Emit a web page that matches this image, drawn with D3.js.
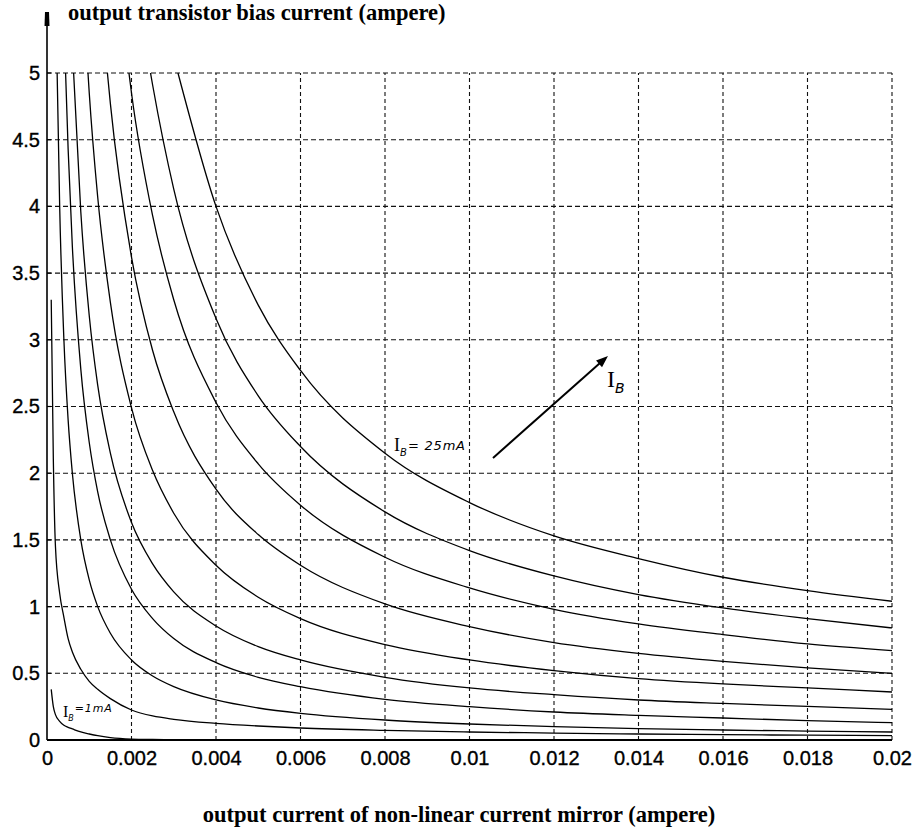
<!DOCTYPE html>
<html>
<head>
<meta charset="utf-8">
<script src="https://cdn.jsdelivr.net/npm/d3@7"></script>
<style>
  html, body { margin: 0; padding: 0; background: #fff; }
  svg { display: block; }
</style>
</head>
<body>
<svg id="chart" width="921" height="831"></svg>
<script>
// ---------- data ----------
const xTickValues = [0, 0.002, 0.004, 0.006, 0.008, 0.01, 0.012, 0.014, 0.016, 0.018, 0.02];
const xTickLabels = ["0", "0.002", "0.004", "0.006", "0.008", "0.01", "0.012", "0.014", "0.016", "0.018", "0.02"];
const yTickValues = [0, 0.5, 1, 1.5, 2, 2.5, 3, 3.5, 4, 4.5, 5];
const yTickLabels = ["0", "0.5", "1", "1.5", "2", "2.5", "3", "3.5", "4", "4.5", "5"];

const xTitle = "output current of non-linear current mirror (ampere)";
const yTitle = "output transistor bias current (ampere)";

// sample positions along the x axis (ampere)
const xGrid = [0.0001, 0.00015, 0.0002, 0.0003, 0.0004, 0.0005, 0.0006, 0.0008, 0.001, 0.0012, 0.0015,
               0.002, 0.0025, 0.003, 0.004, 0.005, 0.006, 0.008, 0.01, 0.012, 0.014, 0.016, 0.018, 0.02];

// x where each curve leaves the top of the plot (y = 5); null = curve starts below the top
const curveTopX = [null, null, 0.00024, 0.00044, 0.00063, 0.00097, 0.00143, 0.00194, 0.00245, 0.0031];

// curve values (ampere); null = above the plotted range
const yCurve1 = [0.38, 0.25, 0.19, 0.14, 0.11, 0.095, 0.083, 0.06, 0.045, 0.032, 0.018, 0.007, 0.004, 0.003, 0.002, 0.002, 0.0015, 0.001, 0.001, 0.001, 0.001, 0.001, 0.001, 0.001];
const yCurve2 = [3.3, 2.1, 1.45, 1.1, 0.92, 0.76, 0.66, 0.53, 0.44, 0.38, 0.31, 0.225, 0.18, 0.155, 0.125, 0.105, 0.09, 0.072, 0.06, 0.052, 0.045, 0.04, 0.036, 0.033];
const yCurve3 = [null, null, null, 4.0, 3.0, 2.4, 2.0, 1.5, 1.2, 1.0, 0.8, 0.6, 0.48, 0.4, 0.3, 0.24, 0.2, 0.15, 0.12, 0.1, 0.085, 0.075, 0.067, 0.06];
const yCurve4 = [null, null, null, null, null, 4.43, 3.7, 2.78, 2.23, 1.86, 1.5, 1.13, 0.91, 0.76, 0.58, 0.47, 0.40, 0.305, 0.25, 0.21, 0.185, 0.165, 0.145, 0.13];
const yCurve5 = [null, null, null, null, null, null, null, 3.96, 3.18, 2.66, 2.15, 1.63, 1.32, 1.11, 0.855, 0.70, 0.60, 0.47, 0.39, 0.34, 0.30, 0.274, 0.252, 0.23];
const yCurve6 = [null, null, null, null, null, null, null, null, 4.85, 4.07, 3.28, 2.49, 2.02, 1.70, 1.31, 1.07, 0.91, 0.715, 0.60, 0.52, 0.46, 0.42, 0.39, 0.36];
const yCurve7 = [null, null, null, null, null, null, null, null, null, null, 4.77, 3.62, 2.92, 2.46, 1.88, 1.54, 1.31, 1.02, 0.85, 0.73, 0.65, 0.59, 0.54, 0.50];
const yCurve8 = [null, null, null, null, null, null, null, null, null, null, null, 4.85, 3.93, 3.30, 2.53, 2.07, 1.76, 1.37, 1.14, 0.98, 0.87, 0.79, 0.72, 0.67];
const yCurve9 = [null, null, null, null, null, null, null, null, null, null, null, null, 4.91, 4.13, 3.16, 2.58, 2.20, 1.71, 1.42, 1.23, 1.09, 0.99, 0.91, 0.84];
const yCurve10 = [null, null, null, null, null, null, null, null, null, null, null, null, null, null, 4.0, 3.26, 2.77, 2.15, 1.78, 1.53, 1.36, 1.22, 1.12, 1.04];

const curveValues = [yCurve1, yCurve2, yCurve3, yCurve4, yCurve5, yCurve6, yCurve7, yCurve8, yCurve9, yCurve10];

// ---------- layout ----------
const svg = d3.select("#chart");
const x = d3.scaleLinear().domain([0, 0.02]).range([47, 892]);
const y = d3.scaleLinear().domain([0, 5]).range([740, 73]);

const tickFont = "'Liberation Sans', Arial, sans-serif";
const titleFont = "'Liberation Serif', 'Times New Roman', serif";
const handFont = "'DejaVu Sans', sans-serif";

// grid
const grid = svg.append("g").attr("stroke", "#111").attr("stroke-width", 1.1).attr("fill", "none");
grid.selectAll("line.v").data(xTickValues.slice(1)).join("line")
  .attr("x1", d => x(d)).attr("x2", d => x(d))
  .attr("y1", y(0)).attr("y2", y(5))
  .attr("stroke-dasharray", "4,3");
grid.selectAll("line.h").data(yTickValues.slice(1)).join("line")
  .attr("x1", x(0)).attr("x2", x(0.02))
  .attr("y1", d => y(d)).attr("y2", d => y(d))
  .attr("stroke-dasharray", "5,3");

// axes (labels only, via d3 axes)
const xAxis = d3.axisBottom(x).tickValues(xTickValues)
  .tickFormat((d, i) => xTickLabels[i]).tickSize(0).tickPadding(11);
const gx = svg.append("g").attr("transform", `translate(0,${y(0)})`).call(xAxis);
gx.select(".domain").remove();
gx.selectAll("text").attr("font-family", tickFont).attr("font-size", 20).attr("fill", "#000")
  .attr("stroke", "#000").attr("stroke-width", 0.35);

const yAxis = d3.axisLeft(y).tickValues(yTickValues)
  .tickFormat((d, i) => yTickLabels[i]).tickSize(0).tickPadding(7);
const gy = svg.append("g").attr("transform", `translate(${x(0)},0)`).call(yAxis);
gy.select(".domain").remove();
gy.selectAll("text").attr("font-family", tickFont).attr("font-size", 20).attr("fill", "#000")
  .attr("stroke", "#000").attr("stroke-width", 0.35);

// small tick marks at the left axis
svg.append("g").selectAll("line").data(yTickValues.slice(1)).join("line")
  .attr("x1", x(0)).attr("x2", x(0) + 4)
  .attr("y1", d => y(d)).attr("y2", d => y(d))
  .attr("stroke", "#000").attr("stroke-width", 1.2);

// axis lines
svg.append("line").attr("x1", x(0)).attr("x2", x(0)).attr("y1", y(0)).attr("y2", 14)
  .attr("stroke", "#000").attr("stroke-width", 1.6);
svg.append("path")
  .attr("d", `M${x(0) - 2.5},26 L${x(0) + 2.5},26 L${x(0) + 2},12 L${x(0) - 2},12 Z`)
  .attr("fill", "#000");
svg.append("line").attr("x1", x(0)).attr("x2", x(0.02)).attr("y1", y(0)).attr("y2", y(0))
  .attr("stroke", "#000").attr("stroke-width", 1.8);

// curves
svg.append("clipPath").attr("id", "plotclip").append("rect")
  .attr("x", x(0)).attr("y", y(5) - 1).attr("width", x(0.02) - x(0) + 1).attr("height", y(0) - y(5) + 2);

const line = d3.line()
  .x(d => x(d[0])).y(d => y(d[1]))
  .curve(d3.curveMonotoneX);

const curves = curveValues.map((vals, k) => {
  const pts = [];
  if (curveTopX[k] !== null) pts.push([curveTopX[k], 5]);
  xGrid.forEach((xv, i) => { if (vals[i] !== null) pts.push([xv, vals[i]]); });
  return pts;
});

svg.append("g").attr("clip-path", "url(#plotclip)")
  .selectAll("path").data(curves).join("path")
  .attr("d", line)
  .attr("fill", "none").attr("stroke", "#000").attr("stroke-width", 1.3);

// titles
svg.append("text").attr("x", 68).attr("y", 20)
  .attr("font-family", titleFont).attr("font-weight", "bold").attr("font-size", 22.5)
  .text(yTitle);
svg.append("text").attr("x", 459).attr("y", 822).attr("text-anchor", "middle")
  .attr("font-family", titleFont).attr("font-weight", "bold").attr("font-size", 22.5)
  .text(xTitle);

// annotations
function ibLabel(g, xPos, yPos, sizeI, sizeSub, rest, restDy, restSize) {
  const t = g.append("text").attr("x", xPos).attr("y", yPos).attr("fill", "#000");
  t.append("tspan").attr("font-family", titleFont).attr("font-size", sizeI).text("I");
  t.append("tspan").attr("font-family", handFont).attr("font-style", "italic")
    .attr("font-size", sizeSub).attr("dy", sizeSub * 0.45).text("B");
  if (rest) {
    t.append("tspan").attr("font-family", handFont).attr("font-style", "italic")
      .attr("font-size", restSize).attr("dy", restDy).attr("dx", 1).attr("letter-spacing", 0.8).text(rest);
  }
}
const ann = svg.append("g");
ibLabel(ann, 394, 451, 18, 10, "= 25mA", -6, 13);
ibLabel(ann, 63, 717, 16, 8, "=1mA", -9, 11);
ibLabel(ann, 607, 387, 24, 14, null);

// arrow
const ax1 = 493, ay1 = 458, ax2 = 608, ay2 = 356;
svg.append("line").attr("x1", ax1).attr("y1", ay1).attr("x2", ax2 - 6).attr("y2", ay2 + 5.3)
  .attr("stroke", "#000").attr("stroke-width", 2);
const ang = Math.atan2(ay2 - ay1, ax2 - ax1);
const hl = 12, hw = 4.5;
const bx = ax2 - hl * Math.cos(ang), by = ay2 - hl * Math.sin(ang);
svg.append("path")
  .attr("d", `M${ax2},${ay2} L${bx - hw * Math.sin(ang)},${by + hw * Math.cos(ang)} L${bx + hw * Math.sin(ang)},${by - hw * Math.cos(ang)} Z`)
  .attr("fill", "#000");
</script>
</body>
</html>
